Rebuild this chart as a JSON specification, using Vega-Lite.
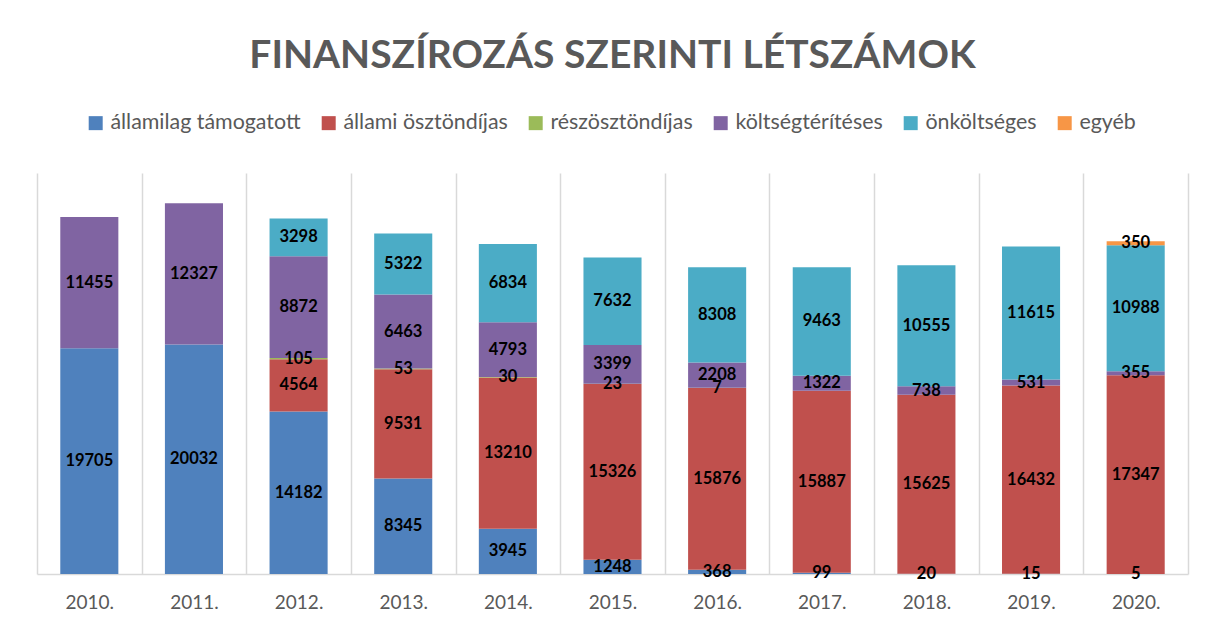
{
  "$schema": "https://vega.github.io/schema/vega-lite/v6.json",
  "autosize": "none",
  "width": 1151,
  "height": 401,
  "padding": {"left": 37, "top": 173, "right": 25, "bottom": 52},
  "background": "white",
  "config": {"view": {"stroke": null}, "font": "Lato"},
  "title": {
    "text": "FINANSZÍROZÁS SZERINTI LÉTSZÁMOK",
    "font": "Lato",
    "fontSize": 39,
    "fontWeight": "bold",
    "color": "#595959",
    "anchor": "middle",
    "frame": "group",
    "offset": 36
  },
  "data": {
    "values": [
      {"year": "2010.", "cat": "államilag támogatott", "value": 19705},
      {"year": "2010.", "cat": "költségtérítéses", "value": 11455},
      {"year": "2011.", "cat": "államilag támogatott", "value": 20032},
      {"year": "2011.", "cat": "költségtérítéses", "value": 12327},
      {"year": "2012.", "cat": "államilag támogatott", "value": 14182},
      {"year": "2012.", "cat": "állami ösztöndíjas", "value": 4564},
      {"year": "2012.", "cat": "részösztöndíjas", "value": 105},
      {"year": "2012.", "cat": "költségtérítéses", "value": 8872},
      {"year": "2012.", "cat": "önköltséges", "value": 3298},
      {"year": "2013.", "cat": "államilag támogatott", "value": 8345},
      {"year": "2013.", "cat": "állami ösztöndíjas", "value": 9531},
      {"year": "2013.", "cat": "részösztöndíjas", "value": 53},
      {"year": "2013.", "cat": "költségtérítéses", "value": 6463},
      {"year": "2013.", "cat": "önköltséges", "value": 5322},
      {"year": "2014.", "cat": "államilag támogatott", "value": 3945},
      {"year": "2014.", "cat": "állami ösztöndíjas", "value": 13210},
      {"year": "2014.", "cat": "részösztöndíjas", "value": 30},
      {"year": "2014.", "cat": "költségtérítéses", "value": 4793},
      {"year": "2014.", "cat": "önköltséges", "value": 6834},
      {"year": "2015.", "cat": "államilag támogatott", "value": 1248},
      {"year": "2015.", "cat": "állami ösztöndíjas", "value": 15326},
      {"year": "2015.", "cat": "részösztöndíjas", "value": 23},
      {"year": "2015.", "cat": "költségtérítéses", "value": 3399},
      {"year": "2015.", "cat": "önköltséges", "value": 7632},
      {"year": "2016.", "cat": "államilag támogatott", "value": 368},
      {"year": "2016.", "cat": "állami ösztöndíjas", "value": 15876},
      {"year": "2016.", "cat": "részösztöndíjas", "value": 7},
      {"year": "2016.", "cat": "költségtérítéses", "value": 2208},
      {"year": "2016.", "cat": "önköltséges", "value": 8308},
      {"year": "2017.", "cat": "államilag támogatott", "value": 99},
      {"year": "2017.", "cat": "állami ösztöndíjas", "value": 15887},
      {"year": "2017.", "cat": "költségtérítéses", "value": 1322},
      {"year": "2017.", "cat": "önköltséges", "value": 9463},
      {"year": "2018.", "cat": "államilag támogatott", "value": 20},
      {"year": "2018.", "cat": "állami ösztöndíjas", "value": 15625},
      {"year": "2018.", "cat": "költségtérítéses", "value": 738},
      {"year": "2018.", "cat": "önköltséges", "value": 10555},
      {"year": "2019.", "cat": "államilag támogatott", "value": 15},
      {"year": "2019.", "cat": "állami ösztöndíjas", "value": 16432},
      {"year": "2019.", "cat": "költségtérítéses", "value": 531},
      {"year": "2019.", "cat": "önköltséges", "value": 11615},
      {"year": "2020.", "cat": "államilag támogatott", "value": 5},
      {"year": "2020.", "cat": "állami ösztöndíjas", "value": 17347},
      {"year": "2020.", "cat": "költségtérítéses", "value": 355},
      {"year": "2020.", "cat": "önköltséges", "value": 10988},
      {"year": "2020.", "cat": "egyéb", "value": 350}
    ]
  },
  "transform": [
    {"calculate": "indexof(['államilag támogatott','állami ösztöndíjas','részösztöndíjas','költségtérítéses','önköltséges','egyéb'], datum.cat)", "as": "ord"},
    {"stack": "value", "groupby": ["year"], "sort": [{"field": "ord", "order": "ascending"}], "as": ["y0", "y1"]},
    {"calculate": "(datum.y0 + datum.y1) / 2", "as": "ymid"}
  ],
  "encoding": {
    "x": {
      "field": "year",
      "type": "nominal",
      "sort": null,
      "title": null,
      "scale": {"paddingInner": 0, "paddingOuter": 0},
      "axis": {
        "tickBand": "extent",
        "grid": true,
        "gridColor": "#D9D9D9",
        "gridWidth": 1.5,
        "ticks": false,
        "domainColor": "#D9D9D9",
        "domainWidth": 1.5,
        "labelAngle": 0,
        "labelFont": "Lato",
        "labelFontSize": 19,
        "labelColor": "#595959",
        "labelPadding": 19
      }
    }
  },
  "layer": [
    {
      "mark": {"type": "bar", "width": {"band": 0.555}},
      "encoding": {
        "y": {"field": "y0", "type": "quantitative", "scale": {"domain": [0, 35000]}, "axis": null},
        "y2": {"field": "y1"},
        "color": {
          "field": "cat",
          "type": "nominal",
          "scale": {
            "domain": ["államilag támogatott", "állami ösztöndíjas", "részösztöndíjas", "költségtérítéses", "önköltséges", "egyéb"],
            "range": ["#4F81BD", "#C0504D", "#9BBB59", "#8064A2", "#4BACC6", "#F79646"]
          },
          "legend": {
            "title": null,
            "orient": "none",
            "direction": "horizontal",
            "legendX": 48,
            "legendY": -61,
            "symbolType": "square",
            "symbolSize": 196,
            "symbolStrokeWidth": 0,
            "symbolOpacity": 1,
            "labelFont": "Lato",
            "labelFontSize": 21.4,
            "labelColor": "#595959",
            "labelOffset": 4,
            "columnPadding": 17,
            "labelLimit": 400
          }
        }
      }
    },
    {
      "mark": {"type": "text", "font": "Lato", "fontSize": 16.5, "fontWeight": "bold", "color": "black", "baseline": "middle"},
      "encoding": {
        "y": {"field": "ymid", "type": "quantitative"},
        "text": {"field": "value", "type": "quantitative", "format": "d"}
      }
    }
  ]
}
